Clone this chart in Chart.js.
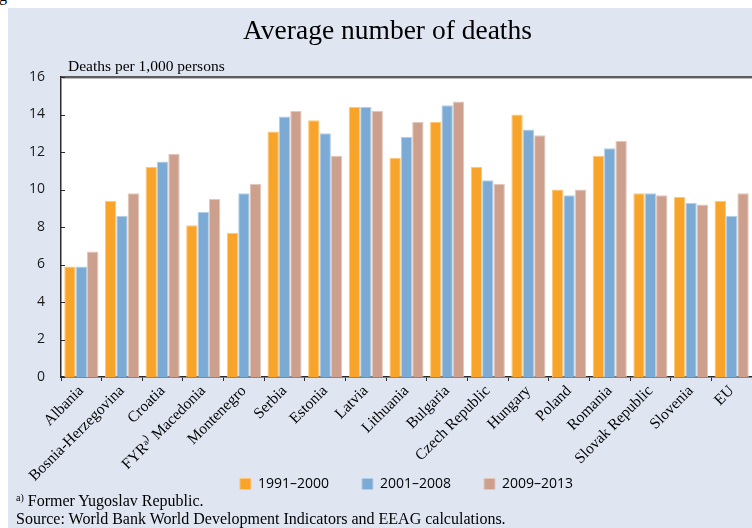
<!DOCTYPE html>
<html>
<head>
<meta charset="utf-8">
<script src="https://cdn.jsdelivr.net/npm/chart.js@4/dist/chart.umd.min.js"></script>
<style>
  html, body { margin: 0; padding: 0; background: #fff; }
  #wrap { position: relative; width: 752px; height: 528px; overflow: hidden; background: #fff; }
  #frag { position: absolute; left: -1px; top: -13px; font: 16px "Liberation Serif", serif; color: #000; }
  #panel { position: absolute; left: 8px; top: 8px; width: 744px; height: 520px; background: #dfe6f2; }
  #c { position: absolute; left: 0; top: 0; }
  .txt { position: absolute; font-family: "Liberation Serif", "Times New Roman", serif; color: #000; white-space: nowrap; }
  #title { left: 0; width: 759px; top: 6px; text-align: center; font-size: 27.5px; line-height: 32px; }
  #cap { left: 60px; top: 49px; font-size: 15.5px; line-height: 18px; }
  #fn1 { left: 8px; top: 484px; font-size: 16px; line-height: 18px; }
  #fn2 { left: 8px; top: 502px; font-size: 16px; line-height: 18px; }
  sup { font-size: 10px; vertical-align: 5px; line-height: 0; }
</style>
</head>
<body>
<div id="wrap">
  <div id="frag">g</div>
  <div id="panel">
    <canvas id="c" width="744" height="520"></canvas>
    <div class="txt" id="title">Average number of deaths</div>
    <div class="txt" id="cap">Deaths per 1,000 persons</div>
    <div class="txt" id="fn1"><sup>a)</sup> Former Yugoslav Republic.</div>
    <div class="txt" id="fn2">Source: World Bank World Development Indicators and EEAG calculations.</div>
  </div>
</div>
<script>
const categories = ['Albania', 'Bosnia-Herzegovina', 'Croatia', 'FYR\u1D43\u207E Macedonia', 'Montenegro',
  'Serbia', 'Estonia', 'Latvia', 'Lithuania', 'Bulgaria', 'Czech Republic', 'Hungary', 'Poland',
  'Romania', 'Slovak Republic', 'Slovenia', 'EU'];
const seriesNames = ['1991\u20132000', '2001\u20132008', '2009\u20132013'];
const s1991 = [5.9, 9.4, 11.2, 8.1, 7.7, 13.1, 13.7, 14.4, 11.7, 13.6, 11.2, 14.0, 10.0, 11.8, 9.8, 9.6, 9.4];
const s2001 = [5.9, 8.6, 11.5, 8.8, 9.8, 13.9, 13.0, 14.4, 12.8, 14.5, 10.5, 13.2, 9.7, 12.2, 9.8, 9.3, 8.6];
const s2009 = [6.7, 9.8, 11.9, 9.5, 10.3, 14.2, 11.8, 14.2, 13.6, 14.7, 10.3, 12.9, 10.0, 12.6, 9.7, 9.2, 9.8];
const yTicks = [0, 2, 4, 6, 8, 10, 12, 14, 16];

const colors = ['#f8a42a', '#7baad4', '#cca08d'];
const borders = ['#fcc77a', '#b3cfe8', '#e3c7bb'];

const plotFrame = {
  id: 'plotFrame',
  beforeDraw(chart) {
    const { ctx, chartArea: a } = chart;
    ctx.save();
    ctx.fillStyle = '#ffffff';
    ctx.fillRect(a.left, a.top, a.right - a.left, a.bottom - a.top);
    ctx.restore();
  },
  afterDraw(chart) {
    const { ctx, chartArea: a } = chart;
    const y = chart.scales.y;
    ctx.save();
    ctx.strokeStyle = '#2b2b2b';
    ctx.lineWidth = 1.5;
    ctx.beginPath();
    ctx.moveTo(a.left, a.top);
    ctx.lineTo(a.right, a.top);
    ctx.stroke();
    ctx.strokeStyle = '#bbbbbb';
    ctx.lineWidth = 1;
    ctx.beginPath();
    ctx.moveTo(a.left, a.top + 1.5);
    ctx.lineTo(a.right, a.top + 1.5);
    ctx.stroke();
    ctx.strokeStyle = '#2b2b2b';
    ctx.lineWidth = 1;
    y.ticks.forEach(t => {
      const p = Math.round(y.getPixelForValue(t.value)) + 0.5;
      ctx.beginPath();
      ctx.moveTo(a.left, p);
      ctx.lineTo(a.left + 4, p);
      ctx.stroke();
    });
    ctx.restore();
  }
};

new Chart(document.getElementById('c'), {
  type: 'bar',
  data: {
    labels: categories,
    datasets: [s1991, s2001, s2009].map((d, i) => ({
      label: seriesNames[i],
      data: d,
      backgroundColor: colors[i],
      borderColor: borders[i],
      borderWidth: 1,
      categoryPercentage: 0.84,
      barPercentage: 1.0
    }))
  },
  options: {
    responsive: false,
    animation: false,
    devicePixelRatio: 1,
    layout: { padding: { top: 69, left: 0, right: 0, bottom: 27 } },
    plugins: {
      title: { display: false },
      tooltip: { enabled: false },
      legend: {
        position: 'bottom',
        fullSize: false,
        labels: {
          boxWidth: 11,
          boxHeight: 11,
          padding: 33,
          color: '#000',
          font: { family: '"Open Sans", sans-serif', size: 14 }
        }
      }
    },
    scales: {
      x: {
        grid: { display: true, drawOnChartArea: false, offset: true, tickLength: 4, color: '#2b2b2b', lineWidth: 1 },
        border: { display: true, color: '#2b2b2b', width: 1.5 },
        ticks: {
          color: '#000',
          minRotation: 45,
          maxRotation: 45,
          autoSkip: false,
          padding: 1,
          font: { family: '"Liberation Serif", "Times New Roman", serif', size: 15.5 }
        },
        afterFit(scale) {
          scale.height = 67;
          // let the rotated category names run past the (short) axis box, as in the reference
          scale._computeLabelArea = () => undefined;
        }
      },
      y: {
        min: 0,
        max: 16,
        afterBuildTicks(scale) { scale.ticks = yTicks.map(v => ({ value: v })); },
        grid: { display: false, drawTicks: false },
        border: { display: true, color: '#2b2b2b', width: 1.5 },
        ticks: {
          color: '#1a1a1a',
          padding: 16,
          font: { family: '"Open Sans", sans-serif', size: 14 }
        },
        afterFit(scale) { scale.width = 53; }
      }
    }
  },
  plugins: [plotFrame]
});
</script>
</body>
</html>
